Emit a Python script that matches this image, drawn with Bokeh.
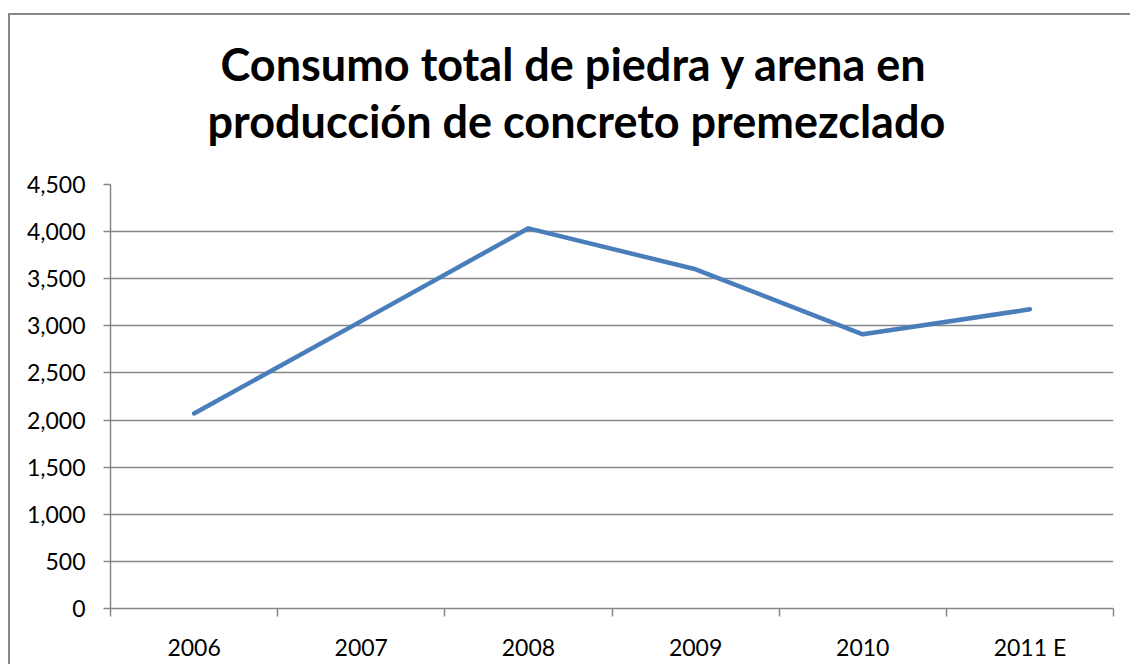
from bokeh.plotting import figure
from bokeh.models import FixedTicker, NumeralTickFormatter, Title, Range1d
from bokeh.embed import file_html
from bokeh.resources import INLINE

# ---- data ----
categories = ["2006", "2007", "2008", "2009", "2010", "2011 E"]
consumo = [2070, 3050, 4035, 3600, 2910, 3175]
y_ticks = [0, 500, 1000, 1500, 2000, 2500, 3000, 3500, 4000, 4500]
title_lines = ["Consumo total de piedra y arena en", "producción de concreto premezclado"]

FONT = "Lato"
GRAY = "#878787"

n = len(categories)
xs = [i + 0.5 for i in range(n)]
Y_MAX = 4500

p = figure(width=1122, height=651, output_backend="svg", toolbar_location=None,
           x_range=Range1d(0, n), y_range=Range1d(0, Y_MAX),
           min_border_left=100, min_border_right=19, min_border_top=169, min_border_bottom=58)
p.styles = {"margin-top": "13px", "margin-left": "8px",
            "border-left": "2px solid #878787", "border-top": "2px solid #878787"}
p.outline_line_color = None
p.background_fill_color = "white"
p.border_fill_color = "white"

p.line(xs, consumo, line_color="#4A7EBB", line_width=4.5, line_join="round", line_cap="round")

# y axis
p.yaxis.ticker = FixedTicker(ticks=y_ticks)
p.yaxis.formatter = NumeralTickFormatter(format="0,0")
p.yaxis.axis_line_color = GRAY
p.yaxis.axis_line_width = 1.5
p.yaxis.major_tick_line_color = GRAY
p.yaxis.major_tick_line_width = 1.5
p.yaxis.major_tick_out = 7
p.yaxis.major_tick_in = 0
p.yaxis.minor_tick_line_color = None
p.yaxis.major_label_text_font = FONT
p.yaxis.major_label_text_font_size = "23px"
p.yaxis.major_label_text_color = "black"
p.yaxis.major_label_standoff = 18

# x axis: labels at centers, ticks at boundaries (as minor ticks)
p.xaxis.ticker = FixedTicker(ticks=xs, minor_ticks=list(range(n + 1)))
p.xaxis.major_label_overrides = {x: c for x, c in zip(xs, categories)}
p.xaxis.axis_line_color = GRAY
p.xaxis.axis_line_width = 1.5
p.xaxis.major_tick_line_color = None
p.xaxis.major_tick_out = 0
p.xaxis.major_tick_in = 0
p.xaxis.minor_tick_line_color = GRAY
p.xaxis.minor_tick_line_width = 1.5
p.xaxis.minor_tick_out = 8
p.xaxis.minor_tick_in = 0
p.xaxis.major_label_text_font = FONT
p.xaxis.major_label_text_font_size = "23px"
p.xaxis.major_label_text_color = "black"
p.xaxis.major_label_standoff = 16

p.xgrid.visible = False
p.ygrid.ticker = FixedTicker(ticks=y_ticks)
p.ygrid.grid_line_color = GRAY
p.ygrid.grid_line_width = 1.5

# spacer nearest the frame, then the two title lines
p.add_layout(Title(text=" ", text_font_size="1px", standoff=33), "above")
for line_text, off, stand in [(title_lines[1], 97, 1), (title_lines[0], 110, 1)]:
    p.add_layout(Title(text=line_text, align="left", offset=off, standoff=stand,
                       text_font=FONT, text_font_style="bold", text_font_size="45px",
                       text_color="black"), "above")

open("out.html", "w").write(file_html(p, INLINE))
